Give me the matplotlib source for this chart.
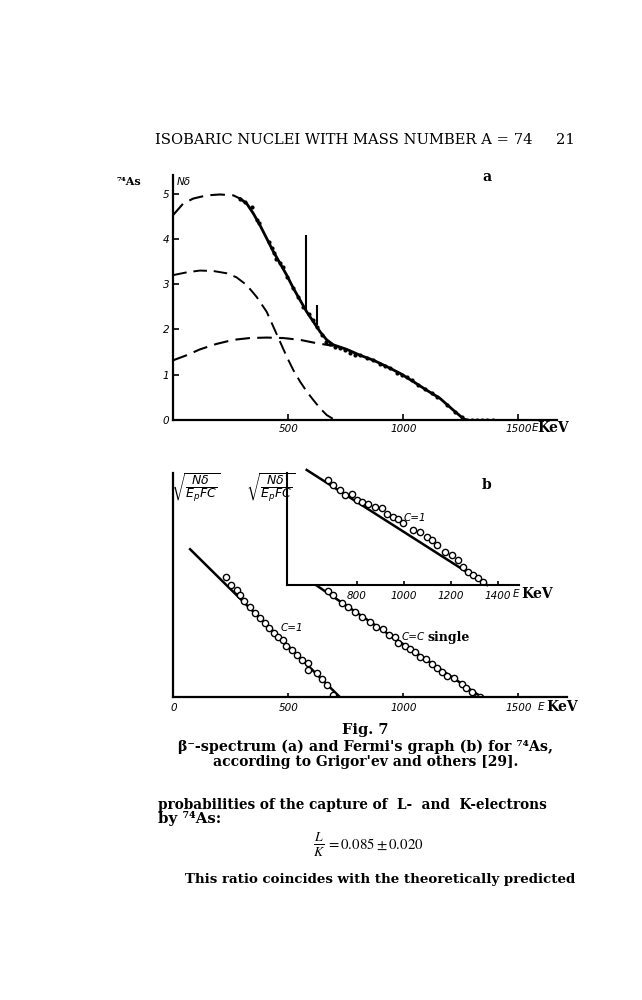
import matplotlib
matplotlib.use("Agg")
import matplotlib.pyplot as plt

W, H = 642, 1000

# ---------------- data: panel a (beta spectrum) ----------------
total_dash_E = [0, 43, 87, 145, 203, 261, 290]
total_dash_N = [4.53, 4.78, 4.89, 4.96, 4.98, 4.96, 4.89]
total_solid_E = [290, 319, 348, 377, 406, 435, 464, 493, 522, 551, 580, 609, 638, 667,
                 696, 754, 812, 870, 928, 986, 1043, 1101, 1159, 1217, 1261, 1275]
total_solid_N = [4.89, 4.78, 4.56, 4.30, 4.01, 3.72, 3.46, 3.20, 2.91, 2.65, 2.39, 2.17, 1.95, 1.77,
                 1.66, 1.56, 1.43, 1.32, 1.18, 1.03, 0.85, 0.66, 0.48, 0.22, 0.03, 0.0]
low_E = [0, 58, 116, 174, 232, 275, 319, 362, 406, 435, 464, 493, 522, 551, 580, 609, 638, 667, 696, 725]
low_N = [3.20, 3.26, 3.30, 3.29, 3.24, 3.15, 2.98, 2.72, 2.39, 2.06, 1.73, 1.40, 1.10, 0.85, 0.63,
         0.44, 0.26, 0.11, 0.02, 0.0]
broad_E = [0, 58, 116, 188, 261, 333, 406, 478, 551, 609, 667, 696]
broad_N = [1.32, 1.43, 1.56, 1.68, 1.77, 1.81, 1.82, 1.81, 1.77, 1.71, 1.66, 1.64]
dots_E = [290, 312, 341, 362, 374, 416, 428, 438, 446, 464, 475, 493, 519, 543, 565, 588, 609, 623,
          645, 664, 681, 703, 725, 746, 768, 790, 812, 841, 870, 899, 920, 942, 971, 993, 1014,
          1036, 1065, 1094, 1123, 1145, 1188, 1225, 1254, 1275, 1297, 1319, 1341, 1362, 1391]
dots_N = [4.87, 4.82, 4.71, 4.42, 4.34, 3.94, 3.79, 3.68, 3.55, 3.46, 3.37, 3.16, 2.92, 2.72, 2.50,
          2.35, 2.21, 2.06, 1.88, 1.73, 1.67, 1.62, 1.58, 1.55, 1.49, 1.43, 1.43, 1.36, 1.32, 1.24,
          1.20, 1.14, 1.04, 0.99, 0.94, 0.88, 0.77, 0.69, 0.59, 0.50, 0.33, 0.18, 0.06, 0.0, 0.0,
          0.0, 0.0, 0.0, 0.0]
conv_E = [577, 626]
conv_low = [2.40, 2.10]
conv_high = [4.08, 2.55]
a_yticks = [0, 1, 2, 3, 4, 5]
a_xticks = [500, 1000, 1500]

# ---------------- data: panel b (Fermi plots) ----------------
c1_line_E = [73, 725]
c1_line_F = [0.661, 0.0]
c1_pts_E = [228, 251, 276, 290, 307, 333, 355, 377, 399, 417, 438, 457, 478, 490, 515, 537, 558,
            584, 587, 623, 648, 667, 696]
c1_pts_F = [0.536, 0.501, 0.479, 0.457, 0.431, 0.402, 0.375, 0.353, 0.333, 0.308, 0.288, 0.268,
            0.256, 0.229, 0.211, 0.189, 0.167, 0.152, 0.122, 0.107, 0.080, 0.055, 0.010]
cs_line_E = [600, 1341]
cs_line_F = [0.515, 0.0]
cs_pts_E = [674, 696, 732, 761, 790, 819, 855, 881, 913, 939, 964, 978, 1007, 1029, 1051, 1073,
            1099, 1123, 1145, 1167, 1189, 1220, 1254, 1273, 1297, 1319, 1333]
cs_pts_F = [0.476, 0.457, 0.420, 0.405, 0.382, 0.360, 0.338, 0.315, 0.304, 0.278, 0.268, 0.241,
            0.229, 0.214, 0.204, 0.179, 0.170, 0.149, 0.129, 0.114, 0.095, 0.085, 0.059, 0.040,
            0.025, 0.003, 0.0]
ins_line_E = [587, 1355]
ins_line_F = [1.03, 0.0]
ins_pts_E = [679, 700, 729, 750, 779, 800, 821, 849, 878, 906, 928, 956, 977, 998, 1041, 1069,
             1098, 1119, 1140, 1176, 1204, 1232, 1254, 1275, 1296, 1317, 1339]
ins_pts_F = [0.944, 0.893, 0.848, 0.804, 0.815, 0.765, 0.744, 0.729, 0.699, 0.685, 0.640, 0.610,
             0.595, 0.551, 0.491, 0.476, 0.432, 0.402, 0.357, 0.298, 0.268, 0.223, 0.164, 0.119,
             0.089, 0.060, 0.030]
b_xticks = [0, 500, 1000, 1500]
ins_xticks = [800, 1000, 1200, 1400]

# ---------------- figure ----------------
fig = plt.figure(figsize=(W / 100, H / 100), dpi=100)
fig.patch.set_facecolor("white")
renderer = fig.canvas.get_renderer()


def box(x0, y0, x1, y1):
    return [x0 / W, 1 - y1 / H, (x1 - x0) / W, (y1 - y0) / H]


def ptext(x, y, s, **kw):
    return fig.text(x / W, 1 - y / H, s, **kw)


def fit_text(x0, x1, yc, s, ha="center", **kw):
    xpos = {"center": (x0 + x1) / 2, "left": x0, "right": x1}[ha]
    t = fig.text(xpos / W, 1 - yc / H, s, ha=ha, va="center", fontsize=10, **kw)
    bb = t.get_window_extent(renderer)
    t.set_fontsize(10 * (x1 - x0) / bb.width)
    return t


tick_font = dict(family="DejaVu Sans", style="italic", size=7.5)
kev_font = dict(family="DejaVu Serif", weight="bold", size=10)
sq_label = r"$\sqrt{\dfrac{N\delta}{E_{p}FC}}$"

# ---------------- panel a ----------------
axa = fig.add_axes(box(173.3, 175, 556.7, 420))
axa.set_xlim(0, 1667)
axa.set_ylim(0, 5.41)
for s in ["top", "right"]:
    axa.spines[s].set_visible(False)
for s in ["left", "bottom"]:
    axa.spines[s].set_linewidth(1.6)
dash = (0, (7, 3.5))
axa.plot(total_dash_E, total_dash_N, color="black", lw=1.5, ls=dash)
axa.plot(total_solid_E, total_solid_N, color="black", lw=2.0, solid_capstyle="round")
axa.plot(low_E, low_N, color="black", lw=1.4, ls=dash)
axa.plot(broad_E, broad_N, color="black", lw=1.5, ls=dash)
axa.plot(dots_E, dots_N, "o", color="black", ms=3.0, mew=0)
axa.vlines(conv_E, conv_low, conv_high, color="black", lw=1.5)
axa.set_yticks(a_yticks)
axa.set_yticklabels([str(v) for v in a_yticks], fontdict=tick_font)
axa.set_xticks(a_xticks)
axa.set_xticklabels([str(v) for v in a_xticks], fontdict=tick_font)
axa.tick_params(axis="both", direction="in", length=4, width=1.2, pad=3)
ptext(534.5, 428, "E", ha="center", va="center", **tick_font)
ptext(553.3, 428, "KeV", ha="center", va="center", **kev_font)
ptext(183.5, 182, "Nδ", ha="center", va="center", **tick_font)
ptext(486.7, 177, "a", ha="center", va="center", family="DejaVu Serif", weight="bold", size=10)
ptext(129, 182, "⁷⁴As", ha="center", va="center", family="DejaVu Serif", weight="bold", size=8)

# ---------------- panel b main ----------------
axb = fig.add_axes(box(173.3, 473.3, 566.7, 697.3))
axb.set_xlim(0, 1710)
axb.set_ylim(0, 1)
for s in ["top", "right"]:
    axb.spines[s].set_visible(False)
for s in ["left", "bottom"]:
    axb.spines[s].set_linewidth(1.6)
axb.plot(c1_line_E, c1_line_F, color="black", lw=1.8)
axb.plot(c1_pts_E, c1_pts_F, "o", mfc="white", mec="black", ms=4.5, mew=1.0)
axb.plot(cs_line_E, cs_line_F, color="black", lw=1.8)
axb.plot(cs_pts_E, cs_pts_F, "o", mfc="white", mec="black", ms=4.5, mew=1.0)
axb.set_yticks([])
axb.set_xticks(b_xticks)
axb.set_xticklabels([str(v) for v in b_xticks], fontdict=tick_font)
axb.tick_params(axis="x", direction="in", length=3, width=1.2, pad=4)
ptext(541, 707, "E", ha="center", va="center", **tick_font)
ptext(562.5, 707, "KeV", ha="center", va="center", **kev_font)
ptext(196, 488, sq_label, ha="center", va="center", size=9)
ptext(291.7, 628.3, "C=1", ha="center", va="center", **tick_font)
ptext(425, 637, "C=C", ha="right", va="center", **tick_font)
ptext(427, 637, "single", ha="left", va="center", family="DejaVu Serif", weight="bold", size=9)
ptext(486.7, 485, "b", ha="center", va="center", family="DejaVu Serif", weight="bold", size=10)

# ---------------- panel b inset ----------------
axi = fig.add_axes(box(286.7, 473.3, 519.3, 585))
axi.set_facecolor("white")
axi.set_xlim(502, 1492)
axi.set_ylim(0, 1)
for s in ["top", "right"]:
    axi.spines[s].set_visible(False)
for s in ["left", "bottom"]:
    axi.spines[s].set_linewidth(1.5)
axi.plot(ins_line_E, ins_line_F, color="black", lw=1.8, clip_on=False)
axi.plot(ins_pts_E, ins_pts_F, "o", mfc="white", mec="black", ms=4.5, mew=1.0)
axi.set_yticks([])
axi.set_xticks(ins_xticks)
axi.set_xticklabels([str(v) for v in ins_xticks], fontdict=tick_font)
axi.tick_params(axis="x", direction="in", length=3, width=1.2, pad=4)
ptext(516, 594, "E", ha="center", va="center", **tick_font)
ptext(537, 594, "KeV", ha="center", va="center", **kev_font)
ptext(270.8, 488, sq_label, ha="center", va="center", size=9)
ptext(415, 518.3, "C=1", ha="center", va="center", **tick_font)

# ---------------- page text ----------------
hdr = fit_text(156.7, 531.7, 140, "ISOBARIC NUCLEI WITH MASS NUMBER A = 74", family="DejaVu Serif")
ptext(575, 140, "21", ha="right", va="center", family="DejaVu Serif", size=hdr.get_fontsize())
capf = dict(family="DejaVu Serif", weight="bold")
fit_text(341.7, 388.3, 730, "Fig. 7", **capf)
fit_text(178.3, 553.3, 746.7, "β⁻-spectrum (a) and Fermi's graph (b) for ⁷⁴As,", **capf)
fit_text(213.3, 518.3, 761.7, "according to Grigor'ev and others [29].", **capf)
fit_text(158.3, 548.3, 805, "probabilities of the capture of  L-  and  K-electrons", ha="left", **capf)
fit_text(158.3, 221.7, 818, "by ⁷⁴As:", ha="left", **capf)
ptext(318.5, 845, r"$\frac{\mathbf{\mathit{L}}}{\mathbf{\mathit{K}}}$", ha="center", va="center",
      size=14, math_fontfamily="stix")
fit_text(326, 423.3, 844, r"$=0.085 \pm 0.020$", ha="left", math_fontfamily="stix")
fit_text(185, 575, 880, "This ratio coincides with the theoretically predicted", ha="left", **capf)

fig.savefig("out.png", dpi=100, facecolor="white")
